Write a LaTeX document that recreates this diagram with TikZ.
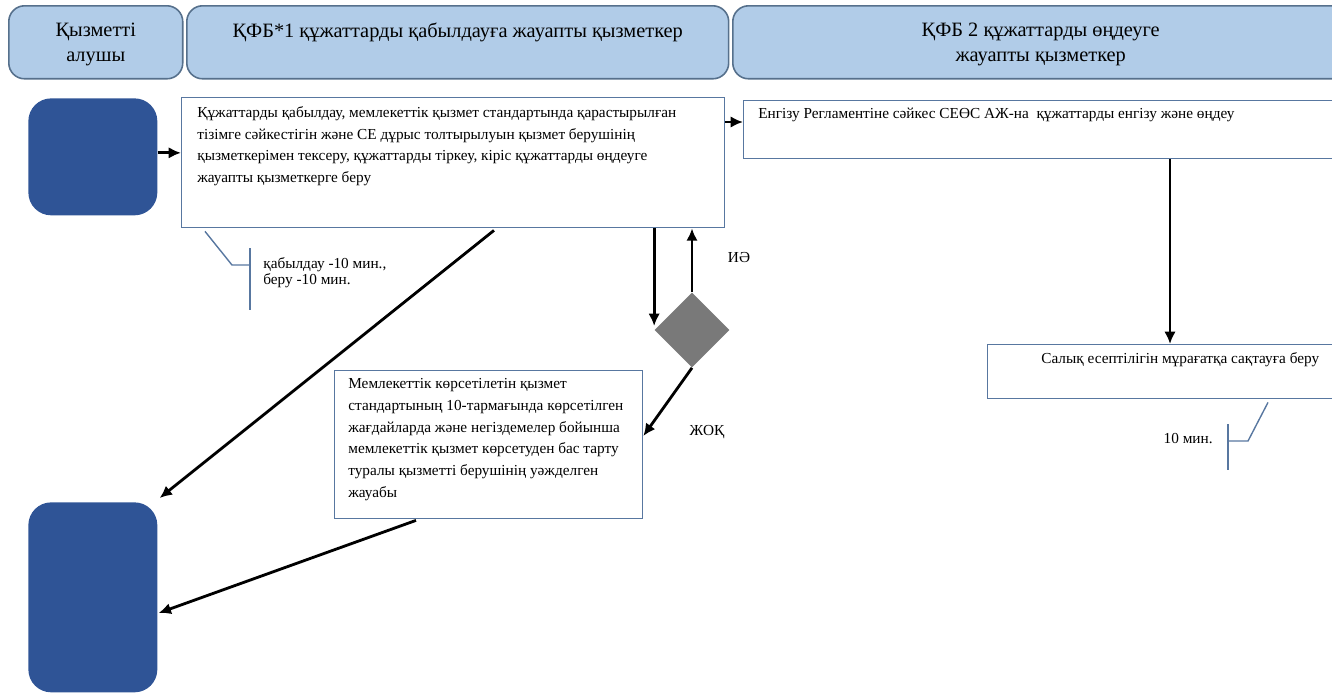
\documentclass[tikz,border=0pt]{standalone}
\usepackage{fontspec}
\setmainfont{Liberation Serif}
\usetikzlibrary{arrows.meta, positioning, calc, shapes.geometric}
\definecolor{colour_head}{HTML}{B1CCE8}
\definecolor{colour_headline}{HTML}{56708C}
\definecolor{colour_client}{HTML}{2F5496}
\definecolor{colour_frame}{HTML}{5877A0}
\colorlet{colour_decide}{gray!95!black}

\begin{document}
\begin{tikzpicture}
   [
      x=0.02cm, y=-0.02cm,
      header/.style={draw=colour_headline, fill=colour_head, line width=0.9pt, rounded corners=9pt, anchor=north west, inner sep=0pt, minimum height=1.46cm},
      head text/.style={anchor=north, align=center, inner sep=0pt, font=\fontsize{11.6}{14}\selectfont},
      client/.style={fill=colour_client, rounded corners=13pt, anchor=north west, inner sep=0pt, minimum width=2.58cm},
      stepbox/.style={draw=colour_frame, fill=white, line width=0.8pt, anchor=north west, inner sep=0pt},
      box text/.style={anchor=north west, align=left, inner sep=0pt, font=\fontsize{8.7}{12.4}\selectfont},
      flow/.style={-{Latex[length=7pt, width=6.5pt]}, line width=1.6pt},
      note line/.style={draw=colour_frame, line width=0.8pt},
      note text/.style={inner sep=0pt, align=left, font=\fontsize{8.7}{9}\selectfont},
   ]
   \clip (0,0) rectangle (1332,694);

   % =======================================================
   % Lane headers
   % =======================================================

   \node[header, minimum width=3.48cm] (hdr_client) at (8,5) {};
   \node[header, minimum width=10.84cm] (hdr_recv) at (186,5) {};
   \node[header, minimum width=12.32cm] (hdr_proc) at (732,5) {};

   \node[head text] (hdr_client_txt) at ($(hdr_client.north)+(0,18)$) {Қызметті\\алушы};
   \node[head text] (hdr_recv_txt) at ($(hdr_recv.north)+(0,18)$) {ҚФБ*1 құжаттарды қабылдауға жауапты қызметкер};
   \node[head text] (hdr_proc_txt) at ($(hdr_proc.north)+(0,18)$) {ҚФБ 2 құжаттарды өңдеуге\\жауапты қызметкер};

   % =======================================================
   % Service receiver
   % =======================================================

   \node[client, minimum height=2.34cm] (client_in) at (28,98) {};
   \node[client, minimum height=3.8cm] (client_out) at (28,502) {};

   % =======================================================
   % Steps
   % =======================================================

   \node[stepbox, minimum width=10.86cm, minimum height=2.6cm] (recv) at (181,97) {};
   \node[box text] (recv_txt) at ($(recv.north west)+(16,9)$)
      {Құжаттарды қабылдау, мемлекеттік қызмет стандартында қарастырылған\\
       тізімге сәйкестігін және СЕ дұрыс толтырылуын қызмет берушінің\\
       қызметкерімен тексеру, құжаттарды тіркеу, кіріс құжаттарды өңдеуге\\
       жауапты қызметкерге беру};

   \node[stepbox, minimum width=11.94cm, minimum height=1.16cm] (enter) at (743,100) {};
   \node[box text] (enter_txt) at ($(enter.north west)+(15,8)$)
      {Енгізу Регламентіне сәйкес СЕӨС АЖ-на\ \ құжаттарды енгізу және өңдеу};

   \node[stepbox, minimum width=7.06cm, minimum height=1.08cm] (archive) at (987,344) {};
   \node[box text] (archive_txt) at ($(archive.north west)+(54,8)$)
      {Салық есептілігін мұрағатқа сақтауға беру};

   \node[stepbox, minimum width=6.16cm, minimum height=2.96cm] (refuse) at (334,370) {};
   \node[box text] (refuse_txt) at ($(refuse.north west)+(14,8)$)
      {Мемлекеттік көрсетілетін қызмет\\
       стандартының 10-тармағында көрсетілген\\
       жағдайларда және негіздемелер бойынша\\
       мемлекеттік қызмет көрсетуден бас тарту\\
       туралы қызметті берушінің уәжделген\\
       жауабы};

   % Decision
   \node[diamond, fill=colour_decide, minimum size=1.5cm, inner sep=0pt] (decide) at (692,330) {};

   % =======================================================
   % Arrows
   % =======================================================

   \draw[flow] ($(client_in.east)+(0,-4)$) -- ($(client_in.east -| recv.west)+(0,-4)$);
   \draw[flow] ($(recv.north east)+(0,25)$) -- ($(enter.north west)+(0,22)$);
   \draw[flow] ($(enter.south west)+(427,0)$) -- ($(archive.north west)+(183,0)$);

   \draw[flow] (decide.west |- recv.south) -- ($(decide.west)+(0,-4)$);
   \draw[flow] (decide.north) -- (decide.north |- recv.south);
   \draw[flow] (decide.south) -- ($(refuse.north east)+(0,66)$);

   \draw[flow] ($(recv.south west)+(313,2)$) -- ($(client_out.north east)+(2,-4)$);
   \draw[flow] ($(refuse.south west)+(82,1)$) -- ($(client_out.north east)+(1,111)$);

   \node[note text] (yes_lbl) at (739,258) {ИӘ};
   \node[note text] (no_lbl) at (707,432) {ЖОҚ};

   % =======================================================
   % Time notes
   % =======================================================

   \coordinate (recv_tick) at (250,265);
   \draw[note line] ($(recv.south west)+(24,3)$) -- (232,265) -- (recv_tick);
   \draw[note line] ($(recv_tick)+(0,-17)$) -- ($(recv_tick)+(0,45)$);
   \node[note text, anchor=north west] (recv_time) at ($(recv_tick)+(13,-8)$) {қабылдау -10 мин.,\\беру -10 мин.};

   \coordinate (archive_tick) at (1228,441);
   \draw[note line] ($(archive.south west)+(281,3)$) -- (1248,441) -- (archive_tick);
   \draw[note line] ($(archive_tick)+(0,-17)$) -- ($(archive_tick)+(0,29)$);
   \node[note text, anchor=east] (archive_time) at ($(archive_tick)+(-15,-2)$) {10 мин.};

\end{tikzpicture}
\end{document}
